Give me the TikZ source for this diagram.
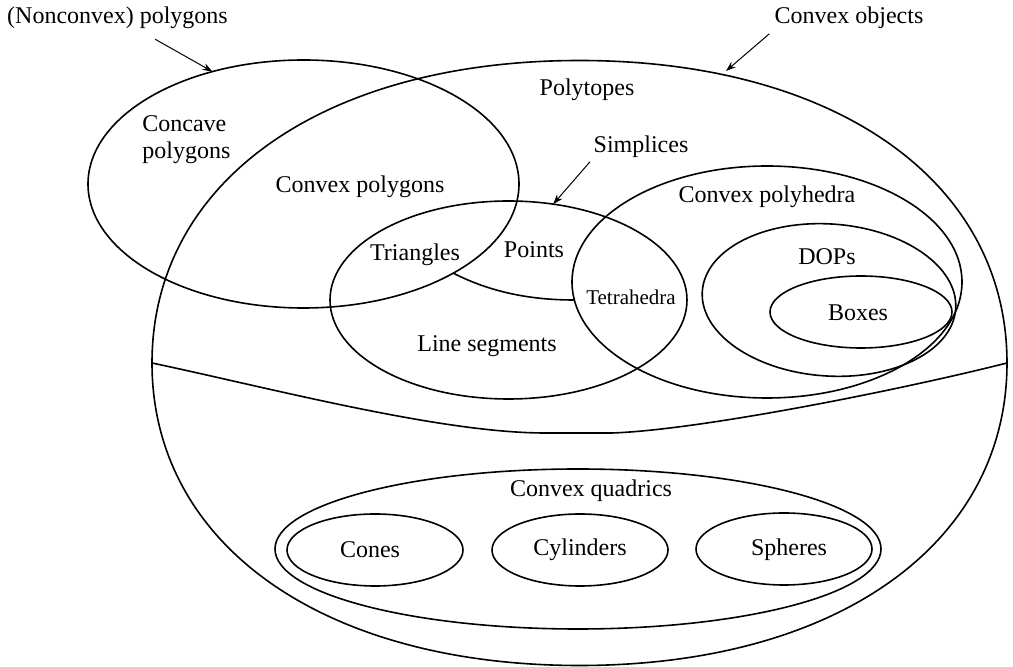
\documentclass[tikz,border=0pt]{standalone}
\usepackage{fontspec}
\setmainfont{Liberation Serif}
\usepackage{tikz}
\usetikzlibrary{arrows.meta}
\usetikzlibrary{shapes.geometric}
\tikzstyle{regionnode}=[draw=black, line width=0.8pt, shape=ellipse, inner sep=0pt, outer sep=0pt]
\tikzstyle{textnode}=[shape=rectangle, inner sep=1pt, font=\fontsize{12}{13.5}\selectfont]
\tikzstyle{pointer}=[-{Stealth[length=5pt, width=3.5pt]}, line width=0.5pt, color=black]
\tikzstyle{border}=[line width=0.8pt, color=black]

\begin{document}
\begin{tikzpicture}[x=0.5pt, y=-0.5pt]
\useasboundingbox (0,0) rectangle (1013,667);

\coordinate (cvw) at (152,363);
\coordinate (cvn) at (579.5,60.5);
\coordinate (cve) at (1007,363);
\coordinate (cvs) at (579.5,665.5);
\draw[border] (cvw) .. controls +(0,-181.5) and +(-256.5,0) .. (cvn) .. controls +(256.5,0) and +(0,-181.5) .. (cve) .. controls +(0,181.5) and +(256.5,0) .. (cvs) .. controls +(-256.5,0) and +(0,181.5) .. (cvw);
\draw[border] (cvw) .. controls (270,388) and (440,433) .. (545,433) -- (612,433) .. controls (700,430) and (900,390) .. (cve);

\node [regionnode, minimum width=215.5pt, minimum height=124pt] (ncpoly) at (303.5,184) {};
\node [regionnode, minimum width=178.5pt, minimum height=99pt] (simplices) at (508.5,300) {};
\node [regionnode, minimum width=195pt, minimum height=116pt] (polyhedra) at (767,282) {};
\node [regionnode, minimum width=127pt, minimum height=76pt, rotate=-4] (dops) at (829,300) {};
\node [regionnode, minimum width=91pt, minimum height=36pt] (boxes) at (861,312) {};
\node [regionnode, minimum width=303pt, minimum height=80pt] (quadrics) at (578,549) {};
\node [regionnode, minimum width=88pt, minimum height=36pt] (cones) at (375,550) {};
\node [regionnode, minimum width=88pt, minimum height=36pt] (cylinders) at (580,550) {};
\node [regionnode, minimum width=88pt, minimum height=36pt] (spheres) at (784,549) {};

\draw[border] (453,273) .. controls (490,292) and (530,300) .. (574,300);

\node [textnode] (nclabel) at (117.5,18) {(Nonconvex) polygons};
\node [textnode] (cvlabel) at (849,18) {Convex objects};
\node [textnode, align=left, anchor=west] (concave) at (140,140) {Concave\\polygons};
\node [textnode] (cxpoly) at (360,187) {Convex polygons};
\node [textnode] (polytopes) at (587,90) {Polytopes};
\node [textnode] (smlabel) at (641,147) {Simplices};
\node [textnode] (triangles) at (415,255) {Triangles};
\node [textnode] (points) at (534,250) {Points};
\node [textnode, font=\fontsize{10.5}{12}\selectfont] (tetra) at (631,297) {Tetrahedra};
\node [textnode] (lineseg) at (487,346) {Line segments};
\node [textnode] (cphlabel) at (767,197) {Convex polyhedra};
\node [textnode] (dopslabel) at (827,257) {DOPs};
\node [textnode] (boxlabel) at (858,313) {Boxes};
\node [textnode] (cqlabel) at (591,491) {Convex quadrics};
\node [textnode] (coneslabel) at (370,550) {Cones};
\node [textnode] (cyllabel) at (580,550) {Cylinders};
\node [textnode] (sphlabel) at (789,550) {Spheres};

\coordinate (cvtip) at (726,71);
\draw[pointer, shorten <=8pt] (nclabel) -- (ncpoly.129);
\draw[pointer, shorten <=2pt] (cvlabel.south west) -- (cvtip);
\draw[pointer, shorten <=1pt] (smlabel.south west) -- (simplices.65);
\end{tikzpicture}
\end{document}
